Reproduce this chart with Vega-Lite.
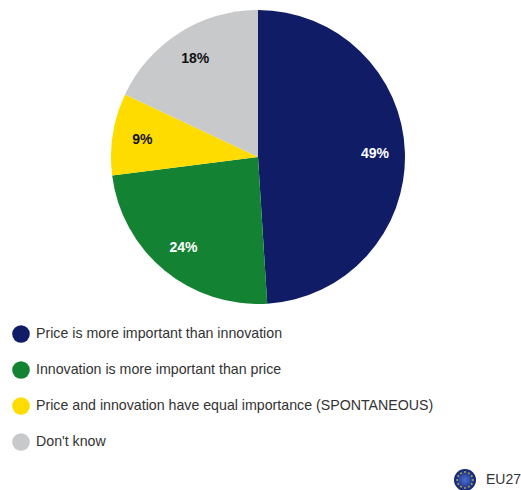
{
  "$schema": "https://vega.github.io/schema/vega-lite/v6.json",
  "width": 516,
  "height": 314,
  "padding": 0,
  "autosize": {"type": "pad"},
  "background": "white",
  "data": {
    "values": [
      {"answer": "Price is more important than innovation", "share": 49, "rank": 1, "label": "49%", "ink": "light", "scope": "EU27", "emblem": "stars"},
      {"answer": "Innovation is more important than price", "share": 24, "rank": 2, "label": "24%", "ink": "light", "scope": "EU27", "emblem": "stars"},
      {"answer": "Price and innovation have equal importance (SPONTANEOUS)", "share": 9, "rank": 3, "label": "9%", "ink": "dark", "scope": "EU27", "emblem": "stars"},
      {"answer": "Don't know", "share": 18, "rank": 4, "label": "18%", "ink": "dark", "scope": "EU27", "emblem": "stars"}
    ]
  },
  "encoding": {
    "theta": {"field": "share", "type": "quantitative", "stack": true, "scale": {"domain": [0, 100]}},
    "order": {"field": "rank", "type": "ordinal"}
  },
  "resolve": {"scale": {"shape": "independent"}, "legend": {"shape": "independent"}},
  "layer": [
    {
      "mark": {"type": "arc", "outerRadius": 147, "stroke": null},
      "encoding": {
        "color": {
          "field": "answer",
          "type": "nominal",
          "sort": {"field": "rank"},
          "scale": {
            "domain": [
              "Price is more important than innovation",
              "Innovation is more important than price",
              "Price and innovation have equal importance (SPONTANEOUS)",
              "Don't know"
            ],
            "range": ["#101c66", "#138232", "#ffdc00", "#c8c9cb"]
          },
          "legend": {
            "title": null,
            "orient": "none",
            "legendX": 12,
            "legendY": 323,
            "symbolType": "circle",
            "symbolSize": 310,
            "symbolStrokeWidth": 0,
            "symbolOpacity": 1,
            "labelFont": "Liberation Sans",
            "labelFontSize": 14.2,
            "labelColor": "#333333",
            "labelLimit": 460,
            "labelOffset": 6,
            "rowPadding": 14,
            "clipHeight": 22
          }
        }
      }
    },
    {
      "mark": {"type": "text", "radius": 117, "font": "Liberation Sans", "fontWeight": "bold", "fontSize": 14, "dy": 1},
      "encoding": {
        "text": {"field": "label", "type": "nominal"},
        "fill": {
          "field": "ink",
          "type": "nominal",
          "scale": {"domain": ["light", "dark"], "range": ["#ffffff", "#111111"]},
          "legend": null
        }
      }
    },
    {
      "mark": {
        "type": "point",
        "filled": true,
        "size": 0,
        "color": {
          "gradient": "radial",
          "x1": 0.5, "y1": 0.5, "r1": 0,
          "x2": 0.5, "y2": 0.5, "r2": 0.5,
          "stops": [
            {"offset": 0, "color": "#4a6ed2"},
            {"offset": 1, "color": "#14246e"}
          ]
        }
      },
      "encoding": {
        "shape": {
          "field": "scope",
          "type": "nominal",
          "scale": {"domain": ["EU27"], "range": ["circle"]},
          "legend": {
            "title": null,
            "orient": "none",
            "legendX": 454,
            "legendY": 469,
            "symbolSize": 484,
            "symbolOpacity": 1,
            "symbolStrokeWidth": 0,
            "labelFont": "Liberation Sans",
            "labelFontSize": 14,
            "labelColor": "#333333",
            "labelOffset": 10
          }
        }
      }
    },
    {
      "mark": {"type": "point", "filled": true, "size": 0, "color": "#f2d21e"},
      "encoding": {
        "shape": {
          "field": "emblem",
          "type": "nominal",
          "scale": {
            "domain": ["stars"],
            "range": ["M0,-.81L.09,-.72L0,-.63L-.09,-.72ZM.36,-.71L.45,-.62L.36,-.53L.27,-.62ZM.62,-.45L.71,-.36L.62,-.27L.53,-.36ZM.72,-.09L.81,0L.72,.09L.63,0ZM.62,.27L.71,.36L.62,.45L.53,.36ZM.36,.53L.45,.62L.36,.71L.27,.62ZM0,.63L.09,.72L0,.81L-.09,.72ZM-.36,.53L-.27,.62L-.36,.71L-.45,.62ZM-.62,.27L-.53,.36L-.62,.45L-.71,.36ZM-.72,-.09L-.63,0L-.72,.09L-.81,0ZM-.62,-.45L-.53,-.36L-.62,-.27L-.71,-.36ZM-.36,-.71L-.27,-.62L-.36,-.53L-.45,-.62Z"]
          },
          "legend": {
            "title": null,
            "orient": "none",
            "legendX": 454,
            "legendY": 469,
            "symbolSize": 484,
            "symbolOpacity": 1,
            "symbolStrokeWidth": 0,
            "labelOpacity": 0,
            "labelFontSize": 1
          }
        }
      }
    }
  ]
}
